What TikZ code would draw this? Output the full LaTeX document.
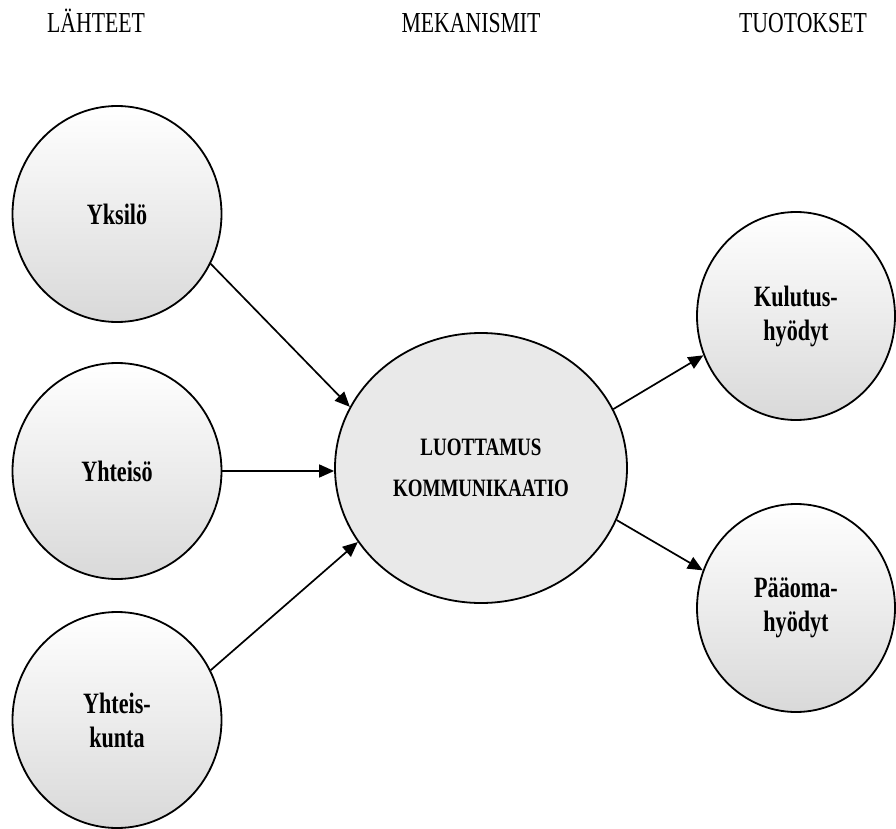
\documentclass[tikz,border=0pt]{standalone}
\usepackage{fontspec}
\usepackage{graphicx}
\setmainfont{Liberation Serif}
\usetikzlibrary{arrows.meta,shapes.geometric}
\newcommand\nw[1]{\scalebox{0.75}[1]{#1}}
\newcommand\nc[1]{\scalebox{0.76}[1]{#1}}
\begin{document}
\begin{tikzpicture}[x=1pt,y=-1pt,
  srcnode/.style={ellipse, draw=black, line width=1.8pt, inner sep=0pt,
    minimum width=209pt, minimum height=216pt,
    top color=white, middle color=white, bottom color=gray!30,
    align=center, font=\fontsize{29.5}{34}\selectfont\bfseries},
  tgtnode/.style={srcnode, minimum width=198pt, minimum height=208pt},
  mechnode/.style={ellipse, draw=black, line width=1.8pt, inner sep=0pt,
    minimum width=292pt, minimum height=270pt, fill=gray!17,
    align=center, font=\fontsize{25}{41}\selectfont\bfseries},
  headnode/.style={anchor=base, inner sep=0pt, font=\fontsize{29}{34}\selectfont},
  arr/.style={line width=1.7pt, -{Triangle[length=15pt,width=13pt]}}
]
\useasboundingbox (0,0) rectangle (896,829);
\node[headnode] (h1) at (96,33) {\nw{LÄHTEET}};
\node[headnode] (h2) at (471,33) {\nw{MEKANISMIT}};
\node[headnode] (h3) at (803,33) {\nw{TUOTOKSET}};

\node[srcnode] (yks) at (117,214) {\nw{Yksilö}};
\node[srcnode] (yht) at (117,471) {\nw{Yhteisö}};
\node[srcnode] (yk) at (117,720) {\nw{Yhteis-}\\\nw{kunta}};

\node[mechnode] (mid) at (481,468) {\nc{LUOTTAMUS}\\\nc{KOMMUNIKAATIO}};

\node[tgtnode] (kul) at (796,316) {\nw{Kulutus-}\\\nw{hyödyt}};
\node[tgtnode] (paa) at (796,608) {\nw{Pääoma-}\\\nw{hyödyt}};

\draw[arr] (yks.-28.7) -- (mid.155.2);
\draw[arr] (yht.east) -- (yht.east -| mid.west);
\draw[arr] (yk.28.7) -- (mid.211.7);
\draw[arr] (mid.24.1) -- (kul.203.6);
\draw[arr] (mid.-21.6) -- (paa.158.8);
\end{tikzpicture}
\end{document}
